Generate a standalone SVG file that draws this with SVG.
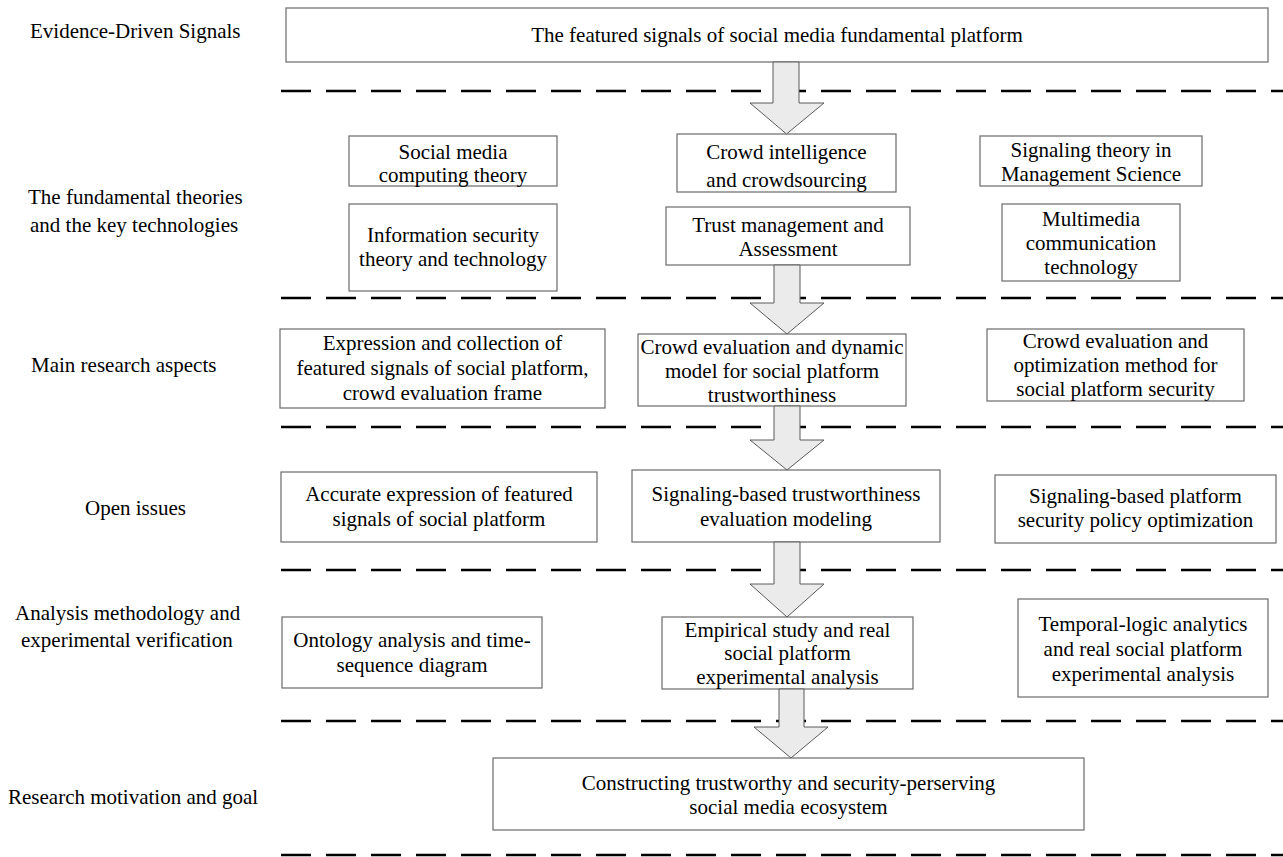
<svg xmlns="http://www.w3.org/2000/svg" width="1283" height="857" viewBox="0 0 1283 857">
  <style>
    text { font-family: "Liberation Serif", "Times New Roman", serif; font-size: 21px; fill: #000; }
    .lbl { text-anchor: start; }
    .box rect { fill: #fff; stroke: #6a6a6a; stroke-width: 1.2; }
    .box text { text-anchor: middle; }
    .sep { stroke: #000; stroke-width: 2.5; stroke-dasharray: 30 15; fill: none; }
    .flow { fill: #ebebeb; stroke: #5a5a5a; stroke-width: 1; stroke-linejoin: miter; }
  </style>

  <rect width="1283" height="857" fill="#fff"/>

  <!-- layer labels on the left -->
  <g id="labels">
    <text class="lbl" x="30" y="38">Evidence-Driven Signals</text>
    <text class="lbl" x="28" y="204">The fundamental theories</text>
    <text class="lbl" x="30" y="232">and the key technologies</text>
    <text class="lbl" x="31" y="372">Main research aspects</text>
    <text class="lbl" x="85" y="515">Open issues</text>
    <text class="lbl" x="15" y="620">Analysis methodology and</text>
    <text class="lbl" x="21" y="647">experimental verification</text>
    <text class="lbl" x="8" y="804">Research motivation and goal</text>
  </g>

  <!-- dashed separators between layers -->
  <g id="separators">
    <line class="sep" x1="281" y1="91" x2="1283" y2="91"/>
    <line class="sep" x1="281" y1="298" x2="1283" y2="298"/>
    <line class="sep" x1="281" y1="427" x2="1283" y2="427"/>
    <line class="sep" x1="281" y1="570" x2="1283" y2="570"/>
    <line class="sep" x1="281" y1="721" x2="1283" y2="721"/>
    <line class="sep" x1="281" y1="855" x2="1283" y2="855"/>
  </g>

  <!-- layer 1 -->
  <g id="n-signals" class="box">
    <rect x="286" y="8" width="982" height="54"/>
    <text x="777" y="42">The featured signals of social media fundamental platform</text>
  </g>

  <!-- layer 2: theories and technologies -->
  <g id="n-social-computing" class="box">
    <rect x="349" y="136" width="208" height="50"/>
    <text x="453" y="159">Social media</text>
    <text x="453" y="182">computing theory</text>
  </g>
  <g id="n-info-security" class="box">
    <rect x="349" y="204" width="208" height="87"/>
    <text x="453" y="242">Information security</text>
    <text x="453" y="266">theory and technology</text>
  </g>
  <g id="n-crowd-intel" class="box">
    <rect x="677" y="134" width="219" height="58"/>
    <text x="786.5" y="159">Crowd intelligence</text>
    <text x="786.5" y="187">and crowdsourcing</text>
  </g>
  <g id="n-trust-mgmt" class="box">
    <rect x="666" y="207" width="244" height="58"/>
    <text x="788" y="232">Trust management and</text>
    <text x="788" y="256">Assessment</text>
  </g>
  <g id="n-signaling-theory" class="box">
    <rect x="980" y="136" width="222" height="50"/>
    <text x="1091" y="157">Signaling theory in</text>
    <text x="1091" y="181">Management Science</text>
  </g>
  <g id="n-multimedia" class="box">
    <rect x="1002" y="204" width="178" height="77"/>
    <text x="1091" y="226">Multimedia</text>
    <text x="1091" y="250">communication</text>
    <text x="1091" y="274">technology</text>
  </g>

  <!-- layer 3: main research aspects -->
  <g id="n-expression" class="box">
    <rect x="280" y="329" width="325" height="79"/>
    <text x="442.5" y="350">Expression and collection of</text>
    <text x="442.5" y="375">featured signals of social platform,</text>
    <text x="442.5" y="400">crowd evaluation frame</text>
  </g>
  <g id="n-crowd-dynamic" class="box">
    <rect x="638" y="334" width="268" height="72"/>
    <text x="772" y="354">Crowd evaluation and dynamic</text>
    <text x="772" y="378">model for social platform</text>
    <text x="772" y="402">trustworthiness</text>
  </g>
  <g id="n-crowd-optim" class="box">
    <rect x="987" y="329" width="257" height="72"/>
    <text x="1115.5" y="348">Crowd evaluation and</text>
    <text x="1115.5" y="372">optimization method for</text>
    <text x="1115.5" y="396">social platform security</text>
  </g>

  <!-- layer 4: open issues -->
  <g id="n-accurate" class="box">
    <rect x="281" y="472" width="316" height="70"/>
    <text x="439" y="501">Accurate expression of featured</text>
    <text x="439" y="526">signals of social platform</text>
  </g>
  <g id="n-trust-model" class="box">
    <rect x="632" y="470" width="308" height="72"/>
    <text x="786" y="501">Signaling-based trustworthiness</text>
    <text x="786" y="526">evaluation modeling</text>
  </g>
  <g id="n-policy" class="box">
    <rect x="995" y="475" width="281" height="68"/>
    <text x="1135.5" y="503">Signaling-based platform</text>
    <text x="1135.5" y="527">security policy optimization</text>
  </g>

  <!-- layer 5: methodology -->
  <g id="n-ontology" class="box">
    <rect x="282" y="617" width="260" height="71"/>
    <text x="412" y="647">Ontology analysis and time-</text>
    <text x="412" y="672">sequence diagram</text>
  </g>
  <g id="n-empirical" class="box">
    <rect x="662" y="617" width="251" height="72"/>
    <text x="787.5" y="637">Empirical study and real</text>
    <text x="787.5" y="660">social platform</text>
    <text x="787.5" y="684">experimental analysis</text>
  </g>
  <g id="n-temporal" class="box">
    <rect x="1018" y="599" width="250" height="98"/>
    <text x="1143" y="631">Temporal-logic analytics</text>
    <text x="1143" y="656">and real social platform</text>
    <text x="1143" y="681">experimental analysis</text>
  </g>

  <!-- layer 6: goal -->
  <g id="n-goal" class="box">
    <rect x="493" y="758" width="591" height="72"/>
    <text x="788.5" y="790">Constructing trustworthy and security-perserving</text>
    <text x="788.5" y="814">social media ecosystem</text>
  </g>

  <!-- block arrows linking the central column -->
  <g id="connectors">
    <polygon class="flow" points="773,62 799,62 799,103 824,103 786.5,134 750,103 773,103"/>
    <polygon class="flow" points="774,265 800,265 800,303 824,303 787,334 750,303 774,303"/>
    <polygon class="flow" points="774,406 800,406 800,440 824,440 787,470 750,440 774,440"/>
    <polygon class="flow" points="774,542 800,542 800,584 824,584 787,617 750,584 774,584"/>
    <polygon class="flow" points="779,689 804,689 804,727 828,727 791,758 754,727 779,727"/>
  </g>
</svg>
